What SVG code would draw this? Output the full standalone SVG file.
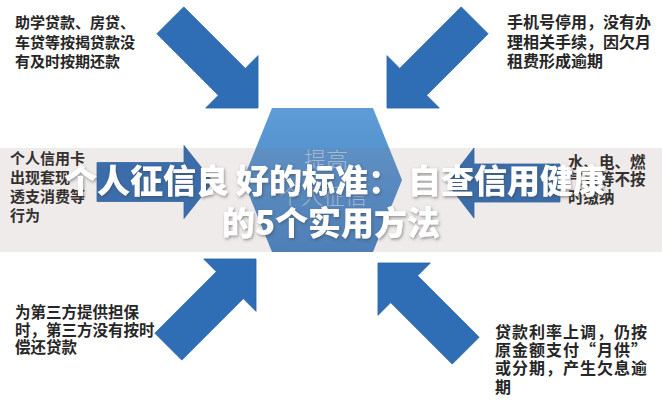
<svg xmlns="http://www.w3.org/2000/svg" width="662" height="400" viewBox="0 0 662 400">
<style>
.note{font-family:"Noto Sans CJK SC","Noto Sans CJK JP",sans-serif;font-weight:700;fill:#262626}
.arrow{fill:#2F6DB5;stroke:#2A64A8;stroke-width:0.8}
.hextext{font-family:"Noto Sans CJK SC",sans-serif;font-weight:300;fill:#C4D5E8;fill-opacity:0.75;text-anchor:middle}
.title{font-family:"Noto Sans CJK SC","Noto Sans CJK JP",sans-serif;font-weight:900;fill:#FFFFFF;font-size:33px;text-anchor:middle}
</style>
<defs>
<linearGradient id="hexfill" x1="0" y1="0" x2="0" y2="1">
<stop offset="0" stop-color="#5E9CD6"/>
<stop offset="1" stop-color="#4482C4"/>
</linearGradient>
<filter id="tshadow" x="-10%" y="-30%" width="120%" height="160%">
<feDropShadow dx="1" dy="1.5" stdDeviation="1.5" flood-color="#444444" flood-opacity="0.55"/>
</filter>
<path id="diag" d="M-124,-19 L-37,-19 L-37,-37 L0,0 L-37,37 L-37,19 L-124,19 Z"/>
</defs>
<rect width="662" height="400" fill="#FFFFFF"/>

<g id="connectors">
<use href="#diag" class="arrow" transform="translate(258,108) rotate(45)"/>
<use href="#diag" class="arrow" transform="translate(387,108) rotate(135)"/>
<use href="#diag" class="arrow" transform="translate(256,259) rotate(-45)"/>
<use href="#diag" class="arrow" transform="translate(378,263) rotate(-135)"/>
<path class="arrow" transform="translate(213,182)" d="M-116,-19.5 L-29,-19.5 L-29,-36.5 L0,0 L-29,36.5 L-29,19.5 L-116,19.5 Z"/>
<path class="arrow" transform="translate(447,183) rotate(180)" d="M-113,-19 L-27,-19 L-27,-35 L0,0 L-27,35 L-27,19 L-113,19 Z"/>
</g>

<g id="center">
<polygon points="272,108 373,108 402,180 373,252 272,252 243,180" fill="url(#hexfill)"/>
<text class="hextext" x="326" y="168" font-size="22">提高</text>
<text class="hextext" x="323" y="204" font-size="22">个人征信</text>
</g>

<g id="note-top-left">
<text class="note" font-size="15"><tspan x="15" y="27.5">助学贷款、房贷、</tspan><tspan x="15" y="47.5">车贷等按揭贷款没</tspan><tspan x="15" y="66.5">有及时按期还款</tspan></text>
</g>
<g id="note-top-right">
<text class="note" font-size="16"><tspan x="507" y="28">手机号停用，没有办</tspan><tspan x="507" y="48">理相关手续，因欠月</tspan><tspan x="507" y="67">租费形成逾期</tspan></text>
</g>
<g id="note-mid-left">
<text class="note" font-size="15"><tspan x="10" y="164">个人信用卡</tspan><tspan x="10" y="183">出现套现</tspan><tspan x="10" y="202">透支消费等</tspan><tspan x="10" y="221">行为</tspan></text>
</g>
<g id="note-mid-right">
<text class="note" font-size="15.5"><tspan x="568" y="167.5">水、电、燃</tspan><tspan x="568" y="185">气费等不按</tspan><tspan x="568" y="202.5">时缴纳</tspan></text>
</g>
<g id="note-bottom-left">
<text class="note" font-size="15.5"><tspan x="15" y="317.5">为第三方提供担保</tspan><tspan x="15" y="336">时，第三方没有按时</tspan><tspan x="15" y="353">偿还贷款</tspan></text>
</g>
<g id="note-bottom-right">
<text class="note" font-size="16" letter-spacing="1"><tspan x="495" y="338">贷款利率上调，仍按</tspan><tspan x="495" y="356">原金额支付“月供”</tspan><tspan x="495" y="374">或分期，产生欠息逾</tspan><tspan x="495" y="392.5">期</tspan></text>
</g>

<g id="title-overlay">
<rect x="0" y="148" width="662" height="104" fill="#8C6E68" fill-opacity="0.14"/>
<g filter="url(#tshadow)">
<text class="title" x="335" y="193">个人征信良<tspan dx="7">好的标准：</tspan><tspan dx="7">自查信用健康</tspan></text>
<text class="title" x="331" y="235">的5个实用方法</text>
</g>
</g>
</svg>
